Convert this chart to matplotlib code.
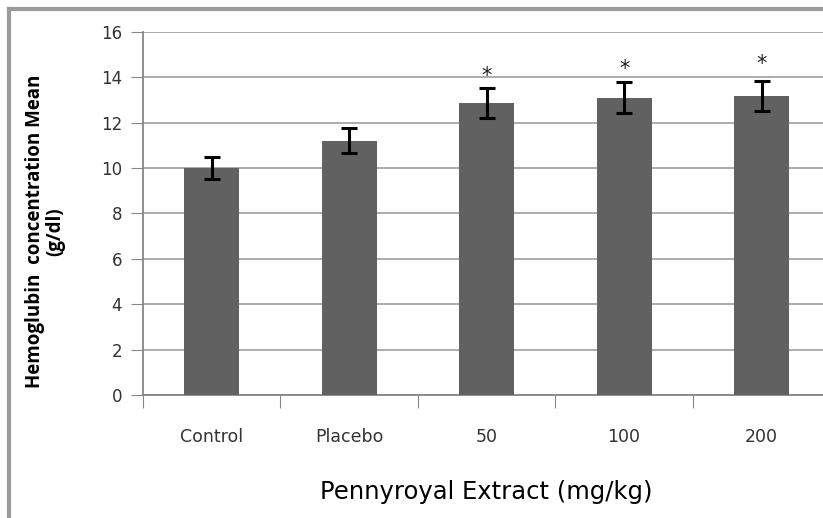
import matplotlib.pyplot as plt
from matplotlib.lines import Line2D

# data
groups = ["Control", "Placebo", "50", "100", "200"]
means = [10.0, 11.2, 12.88, 13.1, 13.17]
errors = [0.47, 0.55, 0.65, 0.68, 0.65]
marks = ["", "", "*", "*", "*"]
mark_levels = [0, 0, 14.05, 14.35, 14.6]
yticks = [0, 2, 4, 6, 8, 10, 12, 14, 16]


def main():
    fig = plt.figure(figsize=(8.23, 5.18), dpi=100)
    ax = fig.add_axes([0.1738, 0.2375, 0.835, 0.7007])

    x = list(range(len(groups)))
    ax.bar(x, means, width=0.4, color="#616161", zorder=3)
    ax.errorbar(x, means, yerr=errors, fmt="none", ecolor="black",
                elinewidth=2.2, capsize=5.5, capthick=2.2, zorder=4)
    for xi, lvl, s in zip(x, mark_levels, marks):
        if s:
            ax.text(xi, lvl, s, ha="center", va="center",
                    fontsize=15, color="#222222", family="DejaVu Sans")

    ax.set_xlim(-0.5, len(groups) - 0.5)
    ax.set_ylim(0, 16)
    ax.set_yticks(yticks)
    ax.set_yticklabels([str(v) for v in yticks], fontsize=12,
                       family="DejaVu Sans", color="#333333")
    ax.yaxis.grid(True, color="#a6a6a6", linewidth=1.3)
    ax.set_axisbelow(True)

    # category ticks between bars, labels centred under bars
    ax.set_xticks([i - 0.5 for i in range(len(groups) + 1)])
    ax.set_xticklabels([])
    ax.set_xticks(x, minor=True)
    ax.set_xticklabels(groups, minor=True, fontsize=12.5,
                       family="DejaVu Sans", color="#333333")
    ax.tick_params(axis="x", which="major", length=9, color="#868686",
                   direction="out")
    ax.tick_params(axis="x", which="minor", length=0, pad=24)
    ax.tick_params(axis="y", length=9, color="#868686", pad=6)

    for side in ["top", "right"]:
        ax.spines[side].set_visible(False)
    for side in ["left", "bottom"]:
        ax.spines[side].set_color("#868686")
        ax.spines[side].set_linewidth(1.3)

    ax.set_xlabel("Pennyroyal Extract (mg/kg)", fontsize=17.5,
                  family="DejaVu Sans", labelpad=24)
    ax.set_ylabel("Hemoglubin  concentration Mean\n(g/dl)", fontsize=13.5,
                  family="Open Sans", fontweight="bold", linespacing=1.05)
    ax.yaxis.set_label_coords(-0.113, 0.45)

    # outer frame (top and left edges only are visible)
    fig.add_artist(Line2D([0.0115, 1.0], [0.9826, 0.9826],
                          transform=fig.transFigure, color="#9a9a9a", lw=3))
    fig.add_artist(Line2D([0.0115, 0.0115], [0.0, 0.9826],
                          transform=fig.transFigure, color="#9a9a9a", lw=3))

    fig.savefig("out.png", dpi=100)


if __name__ == "__main__":
    main()
